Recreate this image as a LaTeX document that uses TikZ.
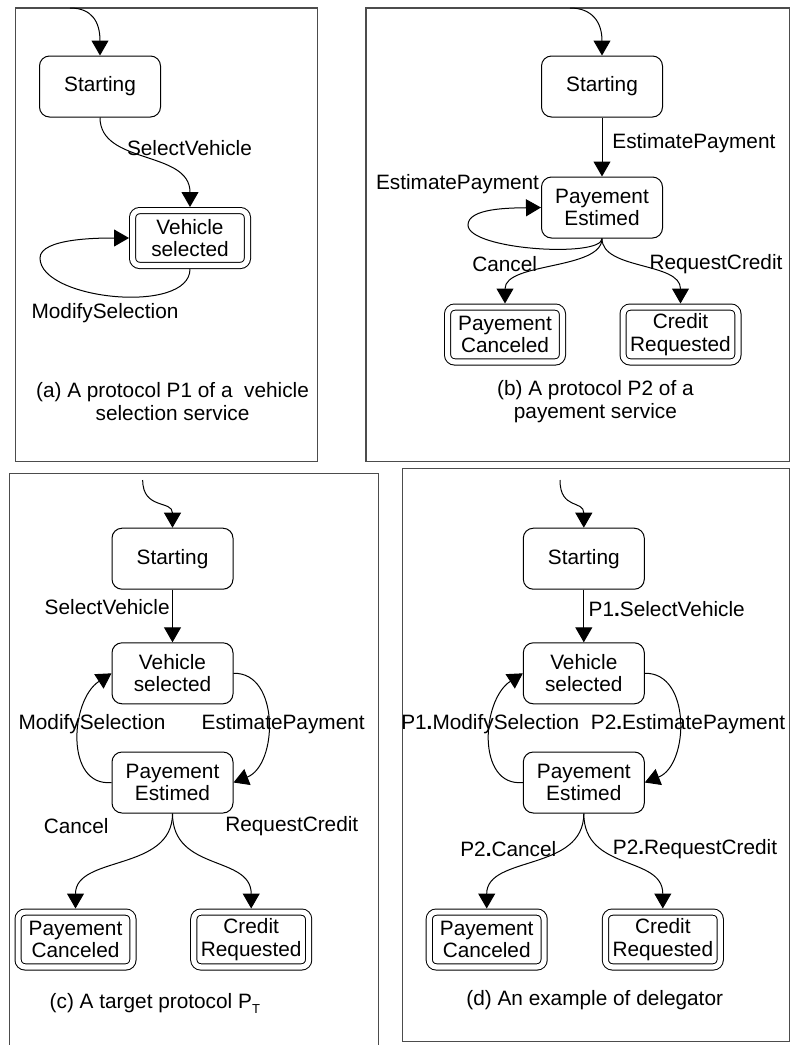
\documentclass[tikz,border=0pt]{standalone}
\usepackage{fontspec}
\setmainfont{Liberation Sans}
\usetikzlibrary{arrows.meta}

\tikzset{
    statebox/.style={draw, rounded corners=5pt, minimum width=60.5pt, minimum height=30.5pt,
        align=center, inner sep=0pt, line width=0.5pt},
    finalbox/.style={draw, double, double distance=2.6pt, rounded corners=3.5pt,
        minimum width=57.4pt, minimum height=27.4pt, align=center, inner sep=0pt,
        outer sep=1.8pt, line width=0.5pt},
    trans/.style={line width=0.5pt, -{Triangle[length=7.5pt,width=8.5pt]}},
    lbl/.style={inner sep=0pt},
    panel/.style={draw=black!70, line width=0.6pt}
}

\begin{document}
\begin{tikzpicture}[x=0.5pt, y=-0.5pt, font=\fontsize{10.4}{11.2}\selectfont]
                \useasboundingbox (0,0) rectangle (794,1045);

                % (a)
                \draw[panel] (15.3,8) rectangle (317.3,461.7);
                \coordinate (a0) at (70,8);
                \node[statebox] (aS) at (100,86.5) {Starting};
                \node[finalbox] (aV) at (190,238) {Vehicle\\selected};
                \node[lbl] (aL1) at (189.5,148) {SelectVehicle};
                \node[lbl] (aL2) at (105,313) {ModifySelection};
                \node[lbl, align=center] (aCap) at (172.5,401.5) {(a) A protocol P1 of a ~vehicle\\selection service};

                \draw[trans] (a0) .. controls (92,8) and (100,22) .. (aS.north);
                \draw[trans] (aS.south) .. controls (100,165) and (190,150) .. (aV.north);
                \draw[trans] (aV.south) .. controls (190,315) and (40,300) .. (40,258)
                    .. controls (40,238) and (100,238) .. (aV.west);

                % (b)
                \draw[panel] (366,8) rectangle (789.3,461.7);
                \coordinate (b0) at (570,8);
                \node[statebox] (bS) at (602,86.5) {Starting};
                \node[statebox] (bP) at (602,207.5) {Payement\\Estimed};
                \node[finalbox] (bC) at (505,334.5) {Payement\\Canceled};
                \node[finalbox] (bR) at (680.5,334.5) {Credit\\Requested};
                \node[lbl, anchor=west] (bL1) at (612,143) {EstimatePayment};
                \node[lbl] (bL2) at (457.5,184) {EstimatePayment};
                \node[lbl] (bL3) at (504.7,264) {Cancel};
                \node[lbl] (bL4) at (716,264) {RequestCredit};
                \node[lbl, align=center] (bCap) at (595.4,401.5) {(b) A protocol P2 of a\\payement service};

                \draw[trans] (b0) .. controls (592,8) and (602,22) .. (bS.north);
                \draw[trans] (bS) -- (bP);
                \draw[trans] (bP.south) .. controls (602,258) and (468,250) .. (468,225)
                    .. controls (468,208) and (510,208) .. (bP.west);
                \draw[trans] (bP.south) .. controls (602,270) and (505,262) .. (bC.north);
                \draw[trans] (bP.south) .. controls (602,270) and (680.5,262) .. (bR.north);

                % (c)
                \draw[panel] (9.3,1045) -- (9.3,473.3) -- (378.3,473.3) -- (378.3,1045);
                \coordinate (c0) at (142.7,480);
                \node[statebox] (cS) at (172.5,558.7) {Starting};
                \node[statebox] (cV) at (172.5,673.3) {Vehicle\\selected};
                \node[statebox] (cP) at (172.5,782.5) {Payement\\Estimed};
                \node[finalbox] (cC) at (75.5,939.5) {Payement\\Canceled};
                \node[finalbox] (cR) at (251.2,939.5) {Credit\\Requested};
                \node[lbl, anchor=east] (cL1) at (170,607.3) {SelectVehicle};
                \node[lbl] (cL2) at (92,724) {ModifySelection};
                \node[lbl] (cL3) at (283.2,724) {EstimatePayment};
                \node[lbl] (cL4) at (76.2,825.7) {Cancel};
                \node[lbl] (cL5) at (291.8,825.7) {RequestCredit};
                \node[lbl, anchor=west] (cCap) at (49.3,1003) {(c) A target protocol P\raisebox{-0.45ex}{\fontsize{6.5}{7}\selectfont T}};

                \draw[trans] (c0) .. controls (142.7,510) and (172.5,500) .. (cS.north);
                \draw[trans] (cS) -- (cV);
                \draw[trans] (cP.west) .. controls (65,787) and (70,700) .. (cV.west);
                \draw[trans] (cV.east) .. controls (280,672) and (278,765) .. (cP.east);
                \draw[trans] (cP.south) .. controls (172.5,872) and (75.5,855) .. (cC.north);
                \draw[trans] (cP.south) .. controls (172.5,872) and (251.2,855) .. (cR.north);

                % (d)
                \draw[panel] (402.7,468.3) rectangle (789.3,1041.7);
                \coordinate (d0) at (560,480);
                \node[statebox] (dS) at (583.8,558.7) {Starting};
                \node[statebox] (dV) at (583.8,673.3) {Vehicle\\selected};
                \node[statebox] (dP) at (583.8,782.5) {Payement\\Estimed};
                \node[finalbox] (dC) at (486.7,939.5) {Payement\\Canceled};
                \node[finalbox] (dR) at (662.8,939.5) {Credit\\Requested};
                \node[lbl, anchor=west] (dL1) at (588.3,608.8) {P1\textbf{.}SelectVehicle};
                \node[lbl] (dL2) at (490.3,724) {P1\textbf{.}ModifySelection};
                \node[lbl] (dL3) at (688,724) {P2\textbf{.}EstimatePayment};
                \node[lbl] (dL4) at (508.3,849.4) {P2\textbf{.}Cancel};
                \node[lbl] (dL5) at (695,849.4) {P2\textbf{.}RequestCredit};
                \node[lbl] (dCap) at (594.7,1000) {(d) An example of delegator};

                \draw[trans] (d0) .. controls (560,510) and (583.8,500) .. (dS.north);
                \draw[trans] (dS) -- (dV);
                \draw[trans] (dP.west) .. controls (476.3,787) and (481.3,700) .. (dV.west);
                \draw[trans] (dV.east) .. controls (691.3,672) and (689.3,765) .. (dP.east);
                \draw[trans] (dP.south) .. controls (583.8,872) and (486.7,855) .. (dC.north);
                \draw[trans] (dP.south) .. controls (583.8,872) and (662.8,855) .. (dR.north);
\end{tikzpicture}
\end{document}
